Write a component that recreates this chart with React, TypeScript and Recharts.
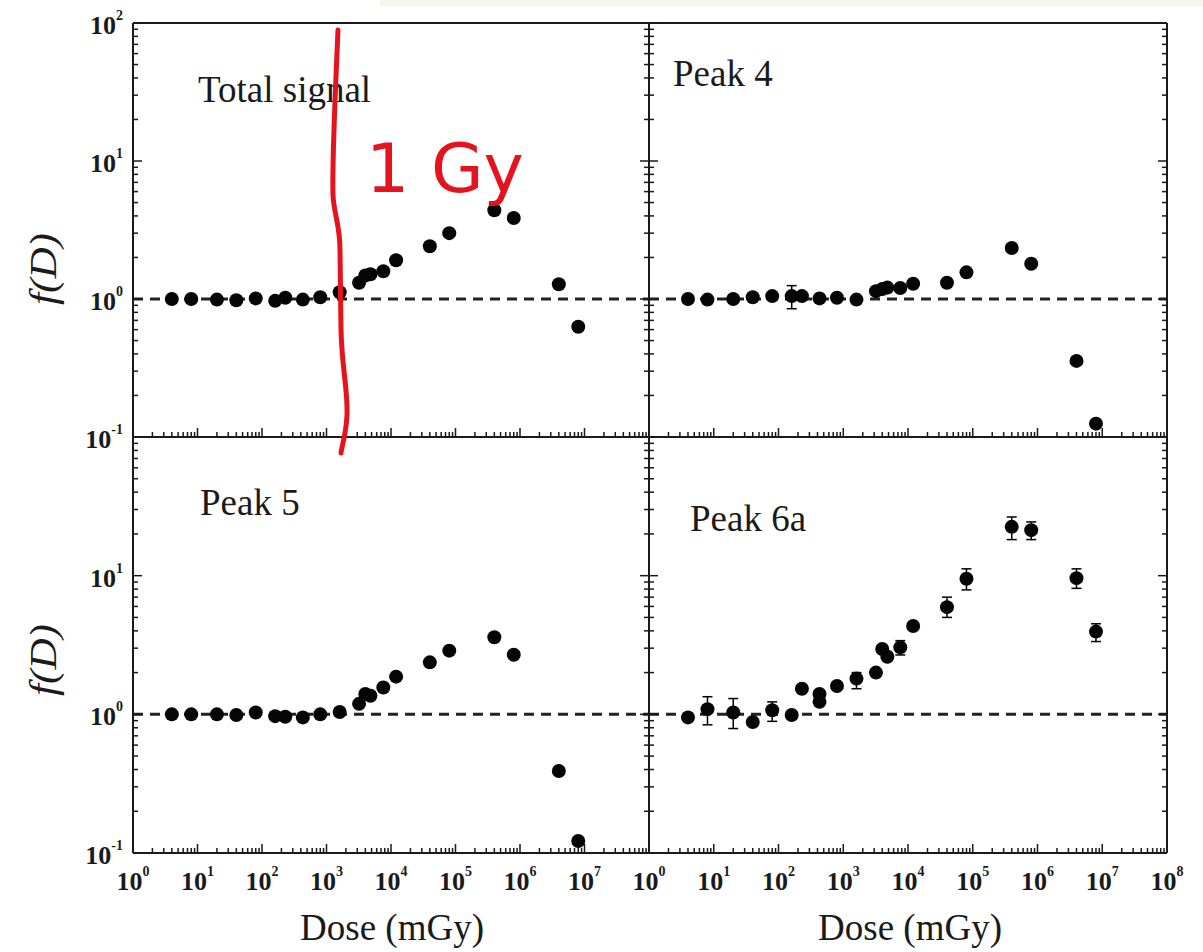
import React from 'react';
import { ErrorBar, ReferenceLine, Scatter, ScatterChart, XAxis, YAxis } from 'recharts';

// dose in mGy, shared by the panels
const doses = [4, 8, 20, 40, 80, 160, 230, 430, 800, 1600, 3200, 4000, 4800, 7600, 12000, 40000, 80000, 400000, 800000, 4000000, 8000000];

const totalSignal = [1.0, 1.0, 0.99, 0.98, 1.01, 0.97, 1.02, 0.99, 1.03, 1.12, 1.31, 1.48, 1.51, 1.59, 1.91, 2.41, 3.0, 4.4, 3.86, 1.28, 0.63];

const peak4 = [1.0, 0.99, 1.0, 1.03, 1.05, 1.05, 1.05, 1.01, 1.02, 0.99, 1.14, 1.18, 1.21, 1.2, 1.29, 1.31, 1.56, 2.34, 1.8, 0.356, 0.125];
const peak4Low = [0.94, null, null, null, null, 0.85, null, null, null, null, null, null, null, null, null, null, null, null, null, null, null];
const peak4High = [1.07, null, null, null, null, 1.25, null, null, null, null, null, null, null, null, null, null, null, null, null, null, null];

const peak5 = [1.0, 1.0, 1.0, 0.99, 1.03, 0.97, 0.96, 0.95, 1.0, 1.04, 1.19, 1.4, 1.36, 1.56, 1.87, 2.37, 2.88, 3.6, 2.69, 0.39, 0.122];

// peak 6a has two readings at 430 mGy
const peak6aDoses = [4, 8, 20, 40, 80, 160, 230, 430, 430, 800, 1600, 3200, 4000, 4800, 7600, 12000, 40000, 80000, 400000, 800000, 4000000, 8000000];
const peak6a = [0.95, 1.09, 1.03, 0.88, 1.07, 0.99, 1.53, 1.4, 1.23, 1.6, 1.81, 2.0, 2.96, 2.6, 3.04, 4.34, 5.93, 9.5, 22.5, 21.3, 9.6, 3.95];
const peak6aLow = [0.9, 0.84, 0.79, null, 0.89, null, null, null, null, null, 1.53, null, null, null, 2.68, null, 5.0, 7.9, 18.2, 18.2, 8.1, 3.35];
const peak6aHigh = [1.0, 1.34, 1.3, null, 1.23, null, null, null, null, null, 2.0, null, null, null, 3.4, null, 7.0, 11.2, 26.5, 24.4, 11.2, 4.5];

const xTicks = [0, 1, 2, 3, 4, 5, 6, 7].flatMap((e) => [1, 2, 3, 4, 5, 6, 7, 8, 9].map((k) => k * 10 ** e)).concat([1e8]);
const yTicks = [-1, 0, 1].flatMap((e) => [1, 2, 3, 4, 5, 6, 7, 8, 9].map((k) => k * 10 ** e)).concat([100]);

const W = 1203;
const H = 952;
const INK = '#1a1a1a';
const SERIF = "'Liberation Serif', 'Times New Roman', serif";

const expOf = (v: number) => Math.round(Math.log10(v));
const isMajor = (v: number) => Math.abs(Math.log10(v) - expOf(v)) < 1e-6;

const PowLabel = ({ x, y, exp, anchor }: { x: number; y: number; exp: number; anchor: 'middle' | 'end' }) => (
  <text x={x} y={y} textAnchor={anchor} fontFamily={SERIF} fontWeight="bold" fontSize={26} fill={INK}>
    10
    <tspan fontSize={14} dy={-14}>{exp}</tspan>
  </text>
);

const Dot = (p: any) => <circle cx={p.cx} cy={p.cy} r={7} fill="#050505" />;

type Box = { l: number; r: number; t: number; b: number };

type PanelProps = {
  box: Box;
  xs: number[];
  ys: number[];
  lo?: (number | null)[];
  hi?: (number | null)[];
  xLabels: number[];
  yLabels: number[];
};

const Panel = ({ box, xs, ys, lo, hi, xLabels, yLabels }: PanelProps) => {
  const data = xs.map((d, i) => {
    const l = lo ? lo[i] : null;
    const h = hi ? hi[i] : null;
    return { dose: d, f: ys[i], err: l != null && h != null ? [ys[i] - l, h - ys[i]] : undefined };
  });
  const margin = { left: box.l - 50, right: W - box.r - 10, top: box.t - 10, bottom: H - box.b - 50 };

  const xTick = (edge: 'b' | 't') => (p: any) => {
    const v = p.payload.value;
    const major = isMajor(v);
    const len = major ? 9 : 5;
    const y0 = edge === 'b' ? box.b : box.t;
    const y1 = edge === 'b' ? y0 - len : y0 + len;
    return (
      <g>
        <line x1={p.x} x2={p.x} y1={y0} y2={y1} stroke={INK} strokeWidth={1.5} />
        {edge === 'b' && major && xLabels.includes(expOf(v)) && (
          <PowLabel x={p.x} y={box.b + 37} exp={expOf(v)} anchor="middle" />
        )}
      </g>
    );
  };

  const yTick = (edge: 'l' | 'r') => (p: any) => {
    const v = p.payload.value;
    const major = isMajor(v);
    const len = major ? 9 : 5;
    const x0 = edge === 'l' ? box.l : box.r;
    const x1 = edge === 'l' ? x0 + len : x0 - len;
    return (
      <g>
        <line x1={x0} x2={x1} y1={p.y} y2={p.y} stroke={INK} strokeWidth={1.5} />
        {edge === 'l' && major && yLabels.includes(expOf(v)) && (
          <PowLabel x={box.l - 10} y={p.y + 11} exp={expOf(v)} anchor="end" />
        )}
      </g>
    );
  };

  const axisLine = { stroke: INK, strokeWidth: 2 };

  return (
    <div style={{ position: 'absolute', left: 0, top: 0 }}>
      <ScatterChart width={W} height={H} margin={margin}>
        <XAxis xAxisId="b" dataKey="dose" type="number" scale="log" domain={[1, 1e8]} allowDataOverflow
          ticks={xTicks} interval={0} height={50} tickLine={false} axisLine={axisLine} tick={xTick('b')} />
        <XAxis xAxisId="t" orientation="top" type="number" scale="log" domain={[1, 1e8]} allowDataOverflow
          ticks={xTicks} interval={0} height={10} tickLine={false} axisLine={axisLine} tick={xTick('t')} />
        <YAxis yAxisId="l" dataKey="f" type="number" scale="log" domain={[0.1, 100]} allowDataOverflow
          ticks={yTicks} interval={0} width={50} tickLine={false} axisLine={axisLine} tick={yTick('l')} />
        <YAxis yAxisId="r" orientation="right" type="number" scale="log" domain={[0.1, 100]} allowDataOverflow
          ticks={yTicks} interval={0} width={10} tickLine={false} axisLine={axisLine} tick={yTick('r')} />
        <ReferenceLine xAxisId="b" yAxisId="l" y={1} stroke="#222" strokeWidth={3} strokeDasharray="10 7" />
        <Scatter xAxisId="b" yAxisId="l" data={data} dataKey="f" shape={Dot} isAnimationActive={false}>
          <ErrorBar dataKey="err" direction="y" width={5} stroke="#000" strokeWidth={1.5} isAnimationActive={false} />
        </Scatter>
      </ScatterChart>
    </div>
  );
};

const TL: Box = { l: 133, r: 649, t: 23, b: 437 };
const TR: Box = { l: 649, r: 1167, t: 23, b: 437 };
const BL: Box = { l: 133, r: 649, t: 437, b: 853 };
const BR: Box = { l: 649, r: 1167, t: 437, b: 853 };

const App = () => (
  <div style={{ position: 'absolute', left: 0, top: 0, width: W, height: H, background: '#fff' }}>
    <div style={{ position: 'absolute', left: 380, top: 0, width: W - 380, height: 6, background: '#f6f6e9' }} />
    <Panel box={TL} xs={doses} ys={totalSignal} xLabels={[]} yLabels={[2, 1, 0, -1]} />
    <Panel box={TR} xs={doses} ys={peak4} lo={peak4Low} hi={peak4High} xLabels={[]} yLabels={[]} />
    <Panel box={BL} xs={doses} ys={peak5} xLabels={[0, 1, 2, 3, 4, 5, 6, 7]} yLabels={[1, 0, -1]} />
    <Panel box={BR} xs={peak6aDoses} ys={peak6a} lo={peak6aLow} hi={peak6aHigh} xLabels={[0, 1, 2, 3, 4, 5, 6, 7, 8]} yLabels={[]} />
    <svg width={W} height={H} style={{ position: 'absolute', left: 0, top: 0 }}>
      <g fontFamily={SERIF} fontSize={37} fill={INK}>
        <text x={198} y={102}>Total signal</text>
        <text x={673} y={86}>Peak 4</text>
        <text x={200} y={515}>Peak 5</text>
        <text x={690} y={531}>Peak 6a</text>
        <text x={392} y={940} textAnchor="middle">Dose (mGy)</text>
        <text x={910} y={940} textAnchor="middle">Dose (mGy)</text>
      </g>
      <g fontFamily={SERIF} fontStyle="italic" fontSize={38} fill={INK}>
        <text transform="translate(56,269) rotate(-90)" textAnchor="middle" textLength={72} lengthAdjust="spacingAndGlyphs">f(D)</text>
        <text transform="translate(56,660) rotate(-90)" textAnchor="middle" textLength={72} lengthAdjust="spacingAndGlyphs">f(D)</text>
      </g>
      <path d="M 338 30 C 335 100, 332 160, 333 195 C 334 215, 340 225, 340 250 L 341 330 C 342 370, 348 390, 347 415 C 346 435, 342 445, 341 453"
        fill="none" stroke="#e5131d" strokeWidth={5} strokeLinecap="round" />
      <text x={366} y={192} fontFamily="'DejaVu Sans', sans-serif" fontSize={68} fill="#e5131d">1 Gy</text>
    </svg>
  </div>
);

export default App;
